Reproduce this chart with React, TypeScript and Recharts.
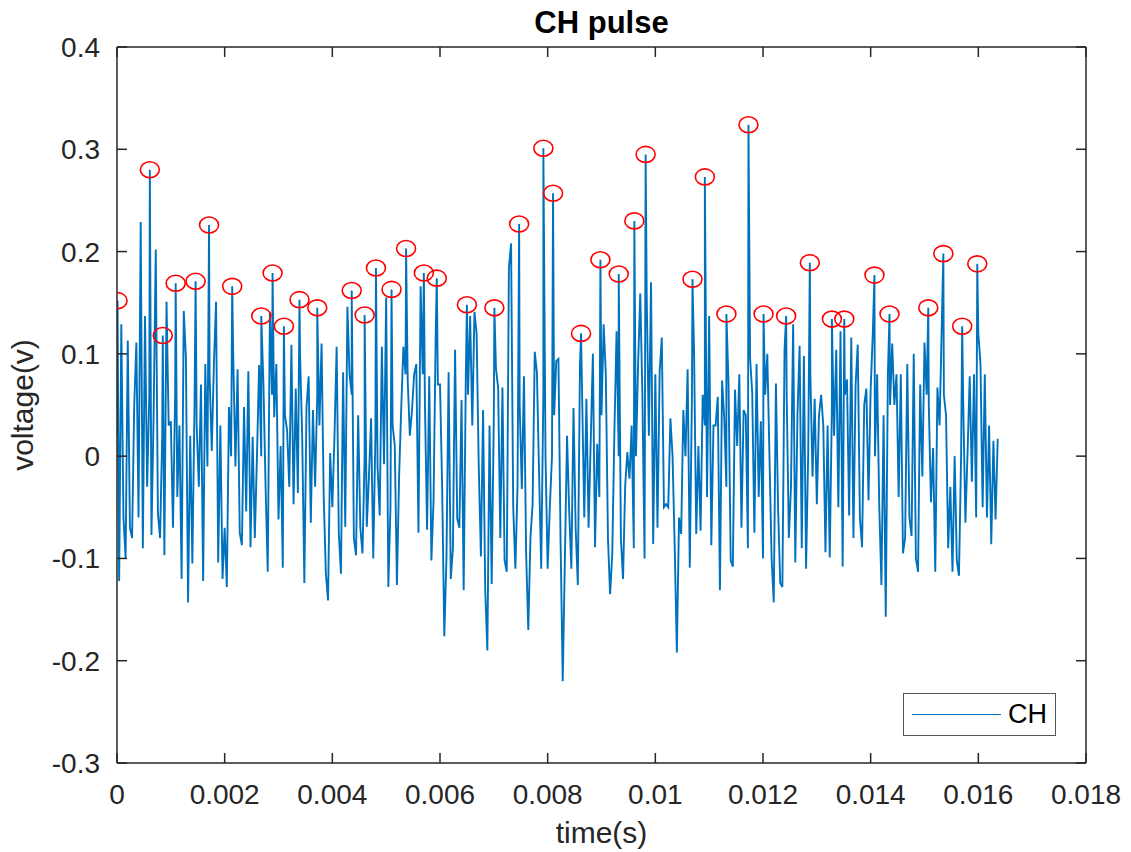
import React from 'react';
import { ComposedChart, Line, Scatter, XAxis, YAxis, Legend } from 'recharts';

// sample spacing of the CH trace (s)
const DT = 0.00004;

// voltage samples, 50 per 0.002 s
const volt = [
  0.02, -0.122, 0.129, -0.06, -0.10, 0.113, -0.07, -0.08, 0.05, 0.111,
  -0.06, 0.229, -0.09, 0.137, -0.03, 0.06, -0.077, 0.04, 0.202, -0.056,
  -0.08, 0.02, -0.097, 0.151, 0.03, 0.034, -0.07, 0.06, -0.04, 0.03,
  -0.12, 0.142, 0.096, -0.143, 0.02, -0.105, 0.05, 0.03, -0.03, 0.07,
  -0.122, 0.09, -0.01, 0.08, 0.005, 0.09, 0.151, -0.104, 0.03, -0.12,

  -0.07, -0.128, 0.048, 0.00, 0.096, -0.01, 0.085, -0.075, -0.087, 0.048,
  -0.054, 0.083, -0.089, 0.019, -0.08, 0.00, 0.089, 0.00, 0.07, -0.03,
  -0.113, 0.14, 0.06, 0.038, 0.09, -0.062, 0.01, -0.109, 0.04, 0.025,
  -0.03, 0.109, -0.047, 0.066, -0.036, 0.10, 0.02, -0.124, 0.048, 0.078,
  -0.065, 0.045, -0.03, 0.06, 0.03, 0.11, -0.04, -0.115, -0.141, 0.003,

  -0.05, 0.02, 0.107, -0.075, -0.115, 0.082, -0.069, 0.146, 0.08, 0.06,
  -0.08, -0.097, 0.04, -0.07, -0.095, 0.0, -0.069, -0.02, 0.037, -0.10,
  0.02, -0.01, -0.058, 0.107, -0.008, 0.155, -0.128, -0.05, 0.03, 0.01,
  -0.126, -0.02, 0.047, 0.107, 0.08, 0.074, 0.02, 0.045, 0.08, 0.09,
  -0.075, 0.166, 0.08, 0.052, -0.072, 0.078, -0.102, -0.044, 0.118, 0.07,

  0.07, -0.03, -0.176, -0.10, 0.082, -0.12, -0.09, 0.104, -0.061, -0.07,
  0.055, -0.131, 0.08, 0.06, 0.137, 0.03, 0.141, 0.120, -0.01, -0.098,
  0.045, -0.131, -0.19, 0.03, -0.125, 0.04, 0.085, 0.067, -0.08, 0.067,
  -0.102, -0.113, 0.184, 0.208, -0.05, -0.110, -0.03, 0.05, -0.032, 0.078,
  -0.095, -0.17, -0.08, -0.047, 0.102, 0.082, -0.015, -0.11, 0.06, 0.0,

  -0.11, -0.05, 0.0, 0.04, 0.093, 0.095, -0.084, -0.22, -0.10, 0.02,
  -0.054, -0.11, 0.047, -0.07, -0.126, 0.089, 0.06, -0.06, 0.056, -0.07,
  0.015, 0.10, -0.089, 0.012, -0.04, 0.04, 0.129, 0.08, -0.08, -0.135,
  -0.095, 0.025, 0.122, 0.0, -0.08, -0.12, -0.029, 0.004, -0.022, 0.03,
  -0.09, 0.0, 0.09, 0.159, 0.059, -0.10, 0.155, 0.02, 0.17, -0.086,

  0.08, -0.07, 0.082, 0.116, -0.05, -0.047, -0.05, 0.037, 0.0, -0.089,
  -0.192, -0.06, -0.076, 0.045, 0.0, 0.085, -0.109, 0.06, 0.10, -0.076,
  0.01, -0.073, 0.06, 0.03, -0.04, 0.137, -0.087, 0.03, 0.03, 0.058,
  -0.131, 0.074, 0.037, -0.03, 0.07, -0.102, -0.108, 0.065, 0.01, 0.08,
  -0.07, 0.045, 0.04, -0.09, 0.096, 0.062, -0.075, 0.09, -0.04, 0.034,

  -0.10, 0.06, 0.10, 0.0, -0.10, -0.143, 0.071, -0.05, -0.124, -0.128,
  0.104, 0.06, -0.08, -0.03, 0.129, -0.104, 0.04, 0.108, -0.09, 0.098,
  -0.11, 0.004, 0.08, -0.02, 0.056, -0.047, 0.04, 0.06, 0.03, -0.094,
  0.03, -0.099, 0.05, 0.02, 0.104, -0.05, 0.122, -0.108, 0.06, 0.075,
  -0.058, 0.116, -0.08, 0.07, 0.109, -0.06, -0.089, 0.05, 0.066, -0.043,

  0.066, 0.12, 0.0, 0.08, -0.05, -0.126, 0.04, -0.157, 0.08, 0.05,
  0.11, 0.05, 0.08, -0.04, 0.08, -0.095, -0.08, 0.09, -0.06, -0.078,
  0.1, -0.10, -0.113, 0.07, -0.02, 0.111, 0.06, 0.05, -0.045, 0.008,
  -0.113, 0.067, 0.03, 0.126, 0.06, 0.04, -0.09, -0.03, -0.113, 0.0,
  -0.102, -0.117, 0.0, 0.05, -0.065, 0.004, 0.078, -0.025, 0.08, -0.06,

  0.12, 0.09, -0.05, 0.08, -0.06, 0.03, -0.086, 0.015, -0.062, 0.017,
];

// detected peaks (red circles)
const peakTime = [
  0.00001, 0.00061, 0.00085, 0.00109, 0.00146, 0.00171, 0.00214, 0.00268, 0.00289, 0.0031,
  0.00339, 0.00372, 0.00436, 0.0046, 0.00481, 0.0051, 0.00537, 0.0057, 0.00594, 0.0065,
  0.00701, 0.00747, 0.00792, 0.0081, 0.00862, 0.00898, 0.00932, 0.00961, 0.00982, 0.01069,
  0.01092, 0.01132, 0.01173, 0.01201, 0.01243, 0.01287, 0.01328, 0.01351, 0.01407, 0.01435,
  0.01507, 0.01535, 0.0157, 0.01598,
];
const peakVolt = [
  0.152, 0.28, 0.118, 0.169, 0.171, 0.226, 0.166, 0.137, 0.179, 0.127,
  0.153, 0.145, 0.162, 0.138, 0.184, 0.163, 0.203, 0.179, 0.174, 0.148,
  0.145, 0.227, 0.301, 0.257, 0.12, 0.192, 0.178, 0.23, 0.295, 0.173,
  0.273, 0.139, 0.324, 0.139, 0.137, 0.189, 0.134, 0.134, 0.177, 0.139,
  0.145, 0.198, 0.127, 0.188,
];

const xTicks = [0, 0.002, 0.004, 0.006, 0.008, 0.01, 0.012, 0.014, 0.016, 0.018];
const yTicks = [-0.3, -0.2, -0.1, 0, 0.1, 0.2, 0.3, 0.4];

const signal = volt.map((v, i) => ({ t: Math.round(i * DT * 1e8) / 1e8, v }));
const peaks = peakTime.map((t, i) => ({ t, peak: peakVolt[i] }));
// the trace passes through every peak
const lineData = [...signal, ...peaks.map(p => ({ t: p.t, v: p.peak }))].sort((a, b) => a.t - b.t);

const AXIS = '#262626';
const FONT = '"Liberation Sans", Arial, Helvetica, sans-serif';

const PeakMarker = (props: any) => {
  const { cx, cy } = props;
  if (cx == null || cy == null) return <g />;
  return <ellipse cx={cx} cy={cy} rx={9.5} ry={8} fill="none" stroke="#FF0000" strokeWidth={1.6} />;
};

const LegendBox = () => (
  <div style={{ width: 151, height: 41, border: '1px solid #555', background: '#fff', position: 'relative', fontFamily: FONT }}>
    <div style={{ position: 'absolute', left: 8, top: 20, width: 89, borderTop: '1.5px solid #0072BD' }} />
    <span style={{ position: 'absolute', left: 104, top: 5, fontSize: 27, lineHeight: '30px', color: '#000' }}>CH</span>
  </div>
);

const tickStyle = { fill: AXIS, fontSize: 28, fontFamily: FONT };
const lineStyle = { stroke: AXIS, strokeWidth: 1.5 };
const blank = () => '';

export default function App() {
  return (
    <div style={{ position: 'absolute', left: 0, top: 0, width: 1131, height: 852, background: '#fff', fontFamily: FONT }}>
      <ComposedChart
        width={1131}
        height={852}
        data={lineData}
        margin={{ top: 42, right: 40, bottom: 49, left: 57 }}
      >
        <XAxis
          dataKey="t"
          type="number"
          domain={[0, 0.018]}
          ticks={xTicks}
          interval={0}
          allowDataOverflow
          height={40}
          tickSize={-10}
          tickMargin={31}
          tick={tickStyle}
          axisLine={lineStyle}
          tickLine={lineStyle}
          tickFormatter={(v: number) => String(v)}
        />
        <XAxis
          xAxisId="top"
          orientation="top"
          dataKey="t"
          type="number"
          domain={[0, 0.018]}
          ticks={xTicks}
          interval={0}
          allowDataOverflow
          height={5}
          tickSize={-10}
          tickMargin={0}
          axisLine={lineStyle}
          tickLine={lineStyle}
          tickFormatter={blank}
        />
        <YAxis
          type="number"
          domain={[-0.3, 0.4]}
          ticks={yTicks}
          interval={0}
          allowDataOverflow
          width={60}
          tickSize={-10}
          tickMargin={27}
          tick={tickStyle}
          axisLine={lineStyle}
          tickLine={lineStyle}
          tickFormatter={(v: number) => String(v)}
        />
        <YAxis
          yAxisId="r"
          orientation="right"
          type="number"
          domain={[-0.3, 0.4]}
          ticks={yTicks}
          interval={0}
          allowDataOverflow
          width={5}
          tickSize={-10}
          tickMargin={0}
          axisLine={lineStyle}
          tickLine={lineStyle}
          tickFormatter={blank}
        />
        <Line
          dataKey="v"
          name="CH"
          type="linear"
          stroke="#0072BD"
          strokeWidth={1.9}
          dot={false}
          activeDot={false}
          isAnimationActive={false}
        />
        <Scatter
          data={peaks}
          dataKey="peak"
          legendType="none"
          shape={PeakMarker}
          isAnimationActive={false}
        />
        <Legend
          layout="vertical"
          align="center"
          verticalAlign="middle"
          content={() => <LegendBox />}
          wrapperStyle={{ position: 'absolute', left: 903, top: 693, width: 153, height: 43 }}
        />
      </ComposedChart>
      <svg width={1131} height={852} style={{ position: 'absolute', left: 0, top: 0, pointerEvents: 'none' }}>
        <text x={601.5} y={33} textAnchor="middle" fontSize={31} fontWeight="bold" fill="#000" fontFamily={FONT}>CH pulse</text>
        <text x={601.5} y={843} textAnchor="middle" fontSize={30} fill={AXIS} fontFamily={FONT}>time(s)</text>
        <text x={33} y={405} textAnchor="middle" fontSize={30} fill={AXIS} fontFamily={FONT} transform="rotate(-90 33 405)">voltage(v)</text>
      </svg>
    </div>
  );
}
